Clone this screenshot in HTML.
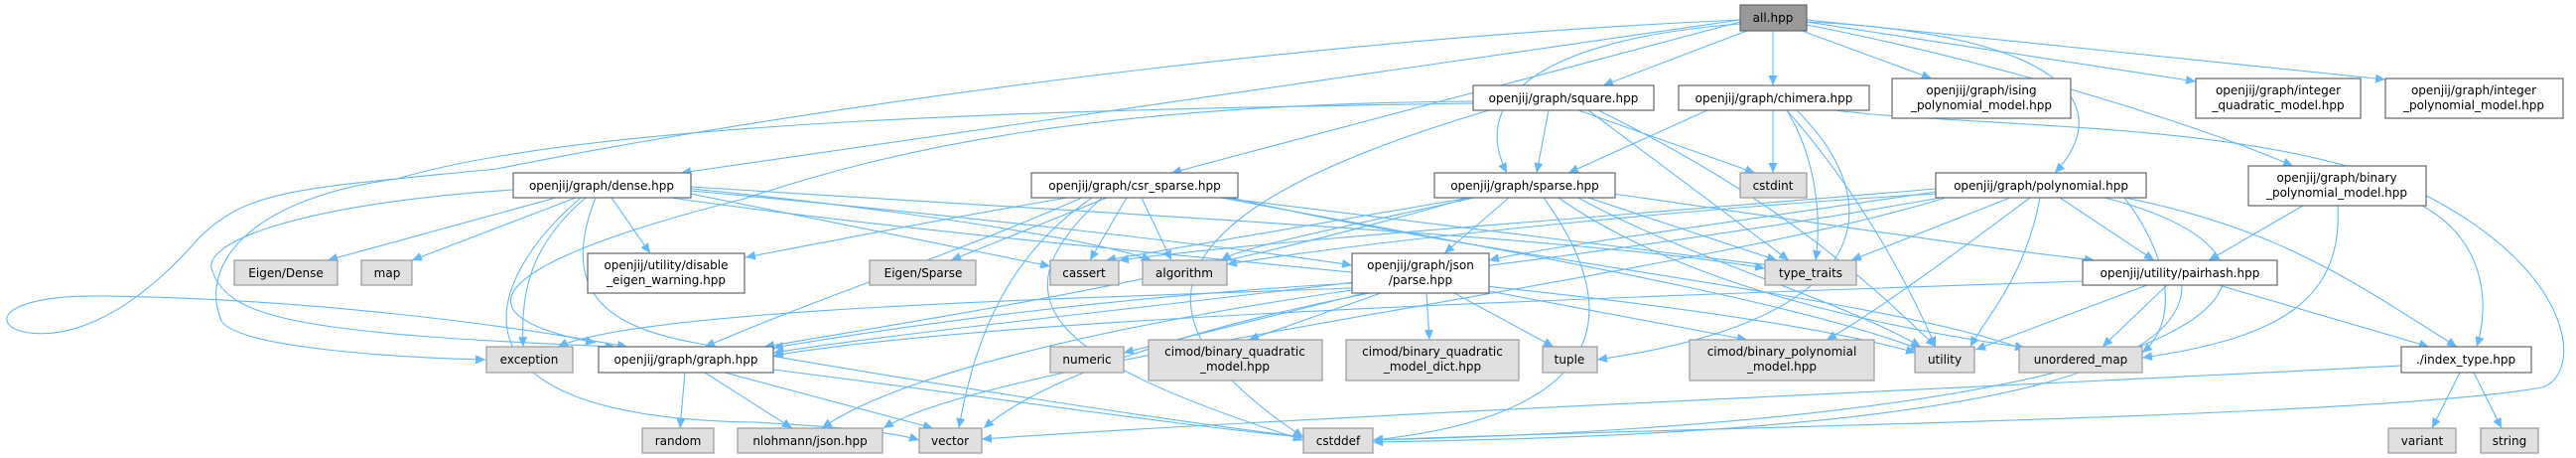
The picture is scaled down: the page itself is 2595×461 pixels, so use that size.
<!DOCTYPE html>
<html><head><meta charset="utf-8"><style>
html,body{margin:0;padding:0;background:#fff;}
svg{display:block;}
text{font-family:"DejaVu Sans","Liberation Sans",sans-serif;font-size:12px;fill:#000;text-anchor:middle;}
.w{fill:#fff;stroke:#666;stroke-width:1.2;}
.g{fill:#e0e0e0;stroke:#999;stroke-width:1.2;}
.r{fill:#999;stroke:#666;stroke-width:1.2;}
path.e{fill:none;stroke:#63b8ff;stroke-width:1.1;marker-end:url(#a);}
</style></head><body>
<svg width="2595" height="461" viewBox="0 0 2595 461" xmlns="http://www.w3.org/2000/svg">
<defs><marker id="a" markerUnits="userSpaceOnUse" markerWidth="11" markerHeight="9" refX="10" refY="4.5" orient="auto"><path d="M0,0 L10,4.5 L0,9 z" fill="#63b8ff"/></marker></defs>
<g>
<!-- all.hpp -->
<path class="e" d="M1786,31 L1786,86"/>
<path class="e" d="M1760,31 L1615,86"/>
<path class="e" d="M1815,31 L1946,79"/>
<path class="e" d="M1820,22 L2212,82"/>
<path class="e" d="M1820,20 L2403,80"/>
<path class="e" d="M1820,22 C2090,35 2130,110 2070,174"/>
<path class="e" d="M1820,25 C2000,60 2200,120 2310,167"/>
<path class="e" d="M1753,24 C1550,40 1480,100 1518,174"/>
<path class="e" d="M1753,22 L1180,174"/>
<path class="e" d="M1753,20 L686,174"/>
<path class="e" d="M1753,20 C1300,40 800,110 500,170 C300,190 250,190 200,240 C130,320 70,340 30,335 C-10,330 -5,297 100,298 C300,300 500,325 632,349"/>
<!-- square -->
<path class="e" d="M1560,111 L1548,174"/>
<path class="e" d="M1590,111 L1768,174"/>
<path class="e" d="M1600,111 L1802,262"/>
<path class="e" d="M1610,111 C1750,180 1850,250 1950,349"/>
<path class="e" d="M1484,102 C1100,105 900,150 750,200 C550,250 420,310 600,345"/>
<path class="e" d="M1484,104 C1100,110 600,120 400,180 C250,200 200,267 223,323 C240,350 400,360 489,362"/>
<path class="e" d="M1500,111 C1200,200 1100,300 1313,440"/>
<!-- chimera -->
<path class="e" d="M1720,111 L1580,174"/>
<path class="e" d="M1786,111 L1786,174"/>
<path class="e" d="M1800,111 C1830,160 1835,220 1829,262"/>
<path class="e" d="M1800,111 C1870,190 1920,280 1950,349"/>
<path class="e" d="M1810,111 C1900,200 1900,320 1609,362"/>
<path class="e" d="M1848,111 C2000,130 2300,120 2450,200 C2600,280 2600,380 2560,390 C2400,420 1700,430 1383,443"/>
<!-- dense -->
<path class="e" d="M560,199 L330,262"/>
<path class="e" d="M580,199 L415,262"/>
<path class="e" d="M616,199 L655,255"/>
<path class="e" d="M590,199 C530,250 525,300 527,349"/>
<path class="e" d="M517,191 C300,205 200,245 214,273 C230,320 300,336 620,349"/>
<path class="e" d="M585,199 C490,280 430,420 760,425 C850,430 900,435 926,443"/>
<path class="e" d="M600,199 C560,300 620,330 700,345 C900,380 1150,420 1313,440"/>
<path class="e" d="M696,195 L1058,268"/>
<path class="e" d="M696,190 C900,210 1100,240 1160,262"/>
<path class="e" d="M696,188 C1200,220 1600,240 1778,270"/>
<path class="e" d="M696,192 C1000,220 1250,250 1362,267"/>
<path class="e" d="M676,199 C1100,260 1700,290 1930,355"/>
<!-- csr -->
<path class="e" d="M1115,199 L958,262"/>
<path class="e" d="M1135,199 L1098,262"/>
<path class="e" d="M1150,199 L1180,262"/>
<path class="e" d="M1075,199 C950,220 800,250 751,259"/>
<path class="e" d="M1090,199 C950,260 850,290 710,349"/>
<path class="e" d="M1110,199 C1000,300 1050,360 1313,443"/>
<path class="e" d="M1100,199 C1010,260 980,350 966,431"/>
<path class="e" d="M1230,199 L1790,268"/>
<path class="e" d="M1230,199 C1500,250 1800,300 1935,352"/>
<path class="e" d="M1240,199 C1500,260 1900,300 2040,352"/>
<!-- sparse -->
<path class="e" d="M1480,199 L1114,262"/>
<path class="e" d="M1485,199 C1300,240 1250,250 1230,262"/>
<path class="e" d="M1520,199 L1455,255"/>
<path class="e" d="M1600,199 L1790,262"/>
<path class="e" d="M1590,199 C1700,260 1850,300 1935,349"/>
<path class="e" d="M1570,199 C1700,290 1900,330 2040,350"/>
<path class="e" d="M1555,199 C1650,330 1600,420 1383,443"/>
<path class="e" d="M1625,195 C1800,220 2000,250 2110,262"/>
<path class="e" d="M1480,199 C1200,280 1000,310 770,349"/>
<!-- polynomial -->
<path class="e" d="M1950,193 C1700,230 1550,250 1500,262"/>
<path class="e" d="M2025,199 L1865,262"/>
<path class="e" d="M1950,195 C1700,210 1400,240 1236,266"/>
<path class="e" d="M1950,190 C1600,220 1300,240 1127,262"/>
<path class="e" d="M1955,199 C1500,280 1000,320 779,355"/>
<path class="e" d="M2075,199 L2170,262"/>
<path class="e" d="M2055,199 C2040,280 2000,320 1985,349"/>
<path class="e" d="M2140,199 C2180,250 2200,320 2158,355"/>
<path class="e" d="M2140,199 C2300,230 2380,290 2475,349"/>
<path class="e" d="M2045,199 C1950,270 1880,320 1840,342"/>
<path class="e" d="M2120,199 C2360,260 2300,420 1383,443"/>
<path class="e" d="M1960,199 C1700,280 1000,360 890,431"/>
<!-- binary polynomial model -->
<path class="e" d="M2320,207 L2225,262"/>
<path class="e" d="M2355,207 C2360,300 2300,340 2158,360"/>
<path class="e" d="M2440,207 C2500,240 2510,300 2495,349"/>
<!-- pairhash -->
<path class="e" d="M2163,287 L1990,352"/>
<path class="e" d="M2183,287 L2118,349"/>
<path class="e" d="M2235,287 L2447,349"/>
<path class="e" d="M2198,287 C2200,420 1700,440 1383,445"/>
<path class="e" d="M2098,283 C1600,300 1000,320 779,358"/>
<!-- parse -->
<path class="e" d="M1362,290 C1100,300 650,310 562,349"/>
<path class="e" d="M1362,285 C1100,300 900,330 779,350"/>
<path class="e" d="M1375,295 L1132,355"/>
<path class="e" d="M1391,295 L1258,342"/>
<path class="e" d="M1437,295 L1440,342"/>
<path class="e" d="M1465,295 L1565,349"/>
<path class="e" d="M1500,293 L1760,342"/>
<path class="e" d="M1380,295 C1200,330 1050,380 991,431"/>
<path class="e" d="M1362,292 C1100,330 900,380 828,431"/>
<!-- graph -->
<path class="e" d="M690,375 L685,431"/>
<path class="e" d="M710,375 L798,431"/>
<path class="e" d="M730,375 L940,431"/>
<path class="e" d="M779,372 C1000,400 1200,430 1313,440"/>
<!-- index -->
<path class="e" d="M2478,375 L2450,431"/>
<path class="e" d="M2492,375 L2520,431"/>
<path class="e" d="M2419,368 C2000,390 1300,420 989,442"/>
</g>
<g>
<rect class="r" x="1753" y="5" width="67" height="26"/><text x="1786" y="22">all.hpp</text>
<rect class="w" x="1484" y="86" width="182" height="25"/><text x="1575" y="103">openjij/graph/square.hpp</text>
<rect class="w" x="1691" y="86" width="192" height="25"/><text x="1787" y="103">openjij/graph/chimera.hpp</text>
<rect class="w" x="1906" y="79" width="180" height="40"/><text x="1996" y="95">openjij/graph/ising</text><text x="1996" y="110">_polynomial_model.hpp</text>
<rect class="w" x="2212" y="79" width="166" height="40"/><text x="2295" y="95">openjij/graph/integer</text><text x="2295" y="110">_quadratic_model.hpp</text>
<rect class="w" x="2403" y="79" width="179" height="40"/><text x="2492" y="95">openjij/graph/integer</text><text x="2492" y="110">_polynomial_model.hpp</text>
<rect class="w" x="517" y="174" width="179" height="25"/><text x="606" y="191">openjij/graph/dense.hpp</text>
<rect class="w" x="1039" y="174" width="208" height="25"/><text x="1143" y="191">openjij/graph/csr_sparse.hpp</text>
<rect class="w" x="1445" y="174" width="182" height="25"/><text x="1536" y="191">openjij/graph/sparse.hpp</text>
<rect class="g" x="1753" y="174" width="67" height="25"/><text x="1786" y="191">cstdint</text>
<rect class="w" x="1950" y="174" width="212" height="25"/><text x="2056" y="191">openjij/graph/polynomial.hpp</text>
<rect class="w" x="2265" y="167" width="179" height="40"/><text x="2354" y="183">openjij/graph/binary</text><text x="2354" y="198">_polynomial_model.hpp</text>
<rect class="g" x="236" y="262" width="104" height="25"/><text x="288" y="279">Eigen/Dense</text>
<rect class="g" x="364" y="262" width="51" height="25"/><text x="390" y="279">map</text>
<rect class="w" x="592" y="255" width="158" height="40"/><text x="671" y="271">openjij/utility/disable</text><text x="671" y="286">_eigen_warning.hpp</text>
<rect class="g" x="876" y="262" width="107" height="25"/><text x="930" y="279">Eigen/Sparse</text>
<rect class="g" x="1058" y="262" width="69" height="25"/><text x="1092" y="279">cassert</text>
<rect class="g" x="1151" y="262" width="85" height="25"/><text x="1193" y="279">algorithm</text>
<rect class="w" x="1362" y="255" width="138" height="40"/><text x="1431" y="271">openjij/graph/json</text><text x="1431" y="286">/parse.hpp</text>
<rect class="g" x="1778" y="262" width="92" height="25"/><text x="1824" y="279">type_traits</text>
<rect class="w" x="2098" y="262" width="196" height="25"/><text x="2196" y="279">openjij/utility/pairhash.hpp</text>
<rect class="g" x="490" y="349" width="87" height="26"/><text x="533" y="366">exception</text>
<rect class="w" x="603" y="349" width="176" height="26"/><text x="691" y="366">openjij/graph/graph.hpp</text>
<rect class="g" x="1058" y="349" width="74" height="26"/><text x="1095" y="366">numeric</text>
<rect class="g" x="1157" y="342" width="175" height="41"/><text x="1244" y="358">cimod/binary_quadratic</text><text x="1244" y="373">_model.hpp</text>
<rect class="g" x="1356" y="342" width="174" height="41"/><text x="1443" y="358">cimod/binary_quadratic</text><text x="1443" y="373">_model_dict.hpp</text>
<rect class="g" x="1554" y="349" width="55" height="26"/><text x="1581" y="366">tuple</text>
<rect class="g" x="1702" y="342" width="186" height="41"/><text x="1795" y="358">cimod/binary_polynomial</text><text x="1795" y="373">_model.hpp</text>
<rect class="g" x="1929" y="349" width="60" height="26"/><text x="1959" y="366">utility</text>
<rect class="g" x="2034" y="349" width="124" height="26"/><text x="2096" y="366">unordered_map</text>
<rect class="w" x="2419" y="349" width="131" height="26"/><text x="2484" y="366">./index_type.hpp</text>
<rect class="g" x="647" y="431" width="72" height="25"/><text x="683" y="448">random</text>
<rect class="g" x="743" y="431" width="146" height="25"/><text x="816" y="448">nlohmann/json.hpp</text>
<rect class="g" x="926" y="431" width="63" height="25"/><text x="957" y="448">vector</text>
<rect class="g" x="1313" y="431" width="70" height="25"/><text x="1348" y="448">cstddef</text>
<rect class="g" x="2406" y="431" width="68" height="25"/><text x="2440" y="448">variant</text>
<rect class="g" x="2499" y="431" width="58" height="25"/><text x="2528" y="448">string</text>
</g>
</svg>
</body></html>
